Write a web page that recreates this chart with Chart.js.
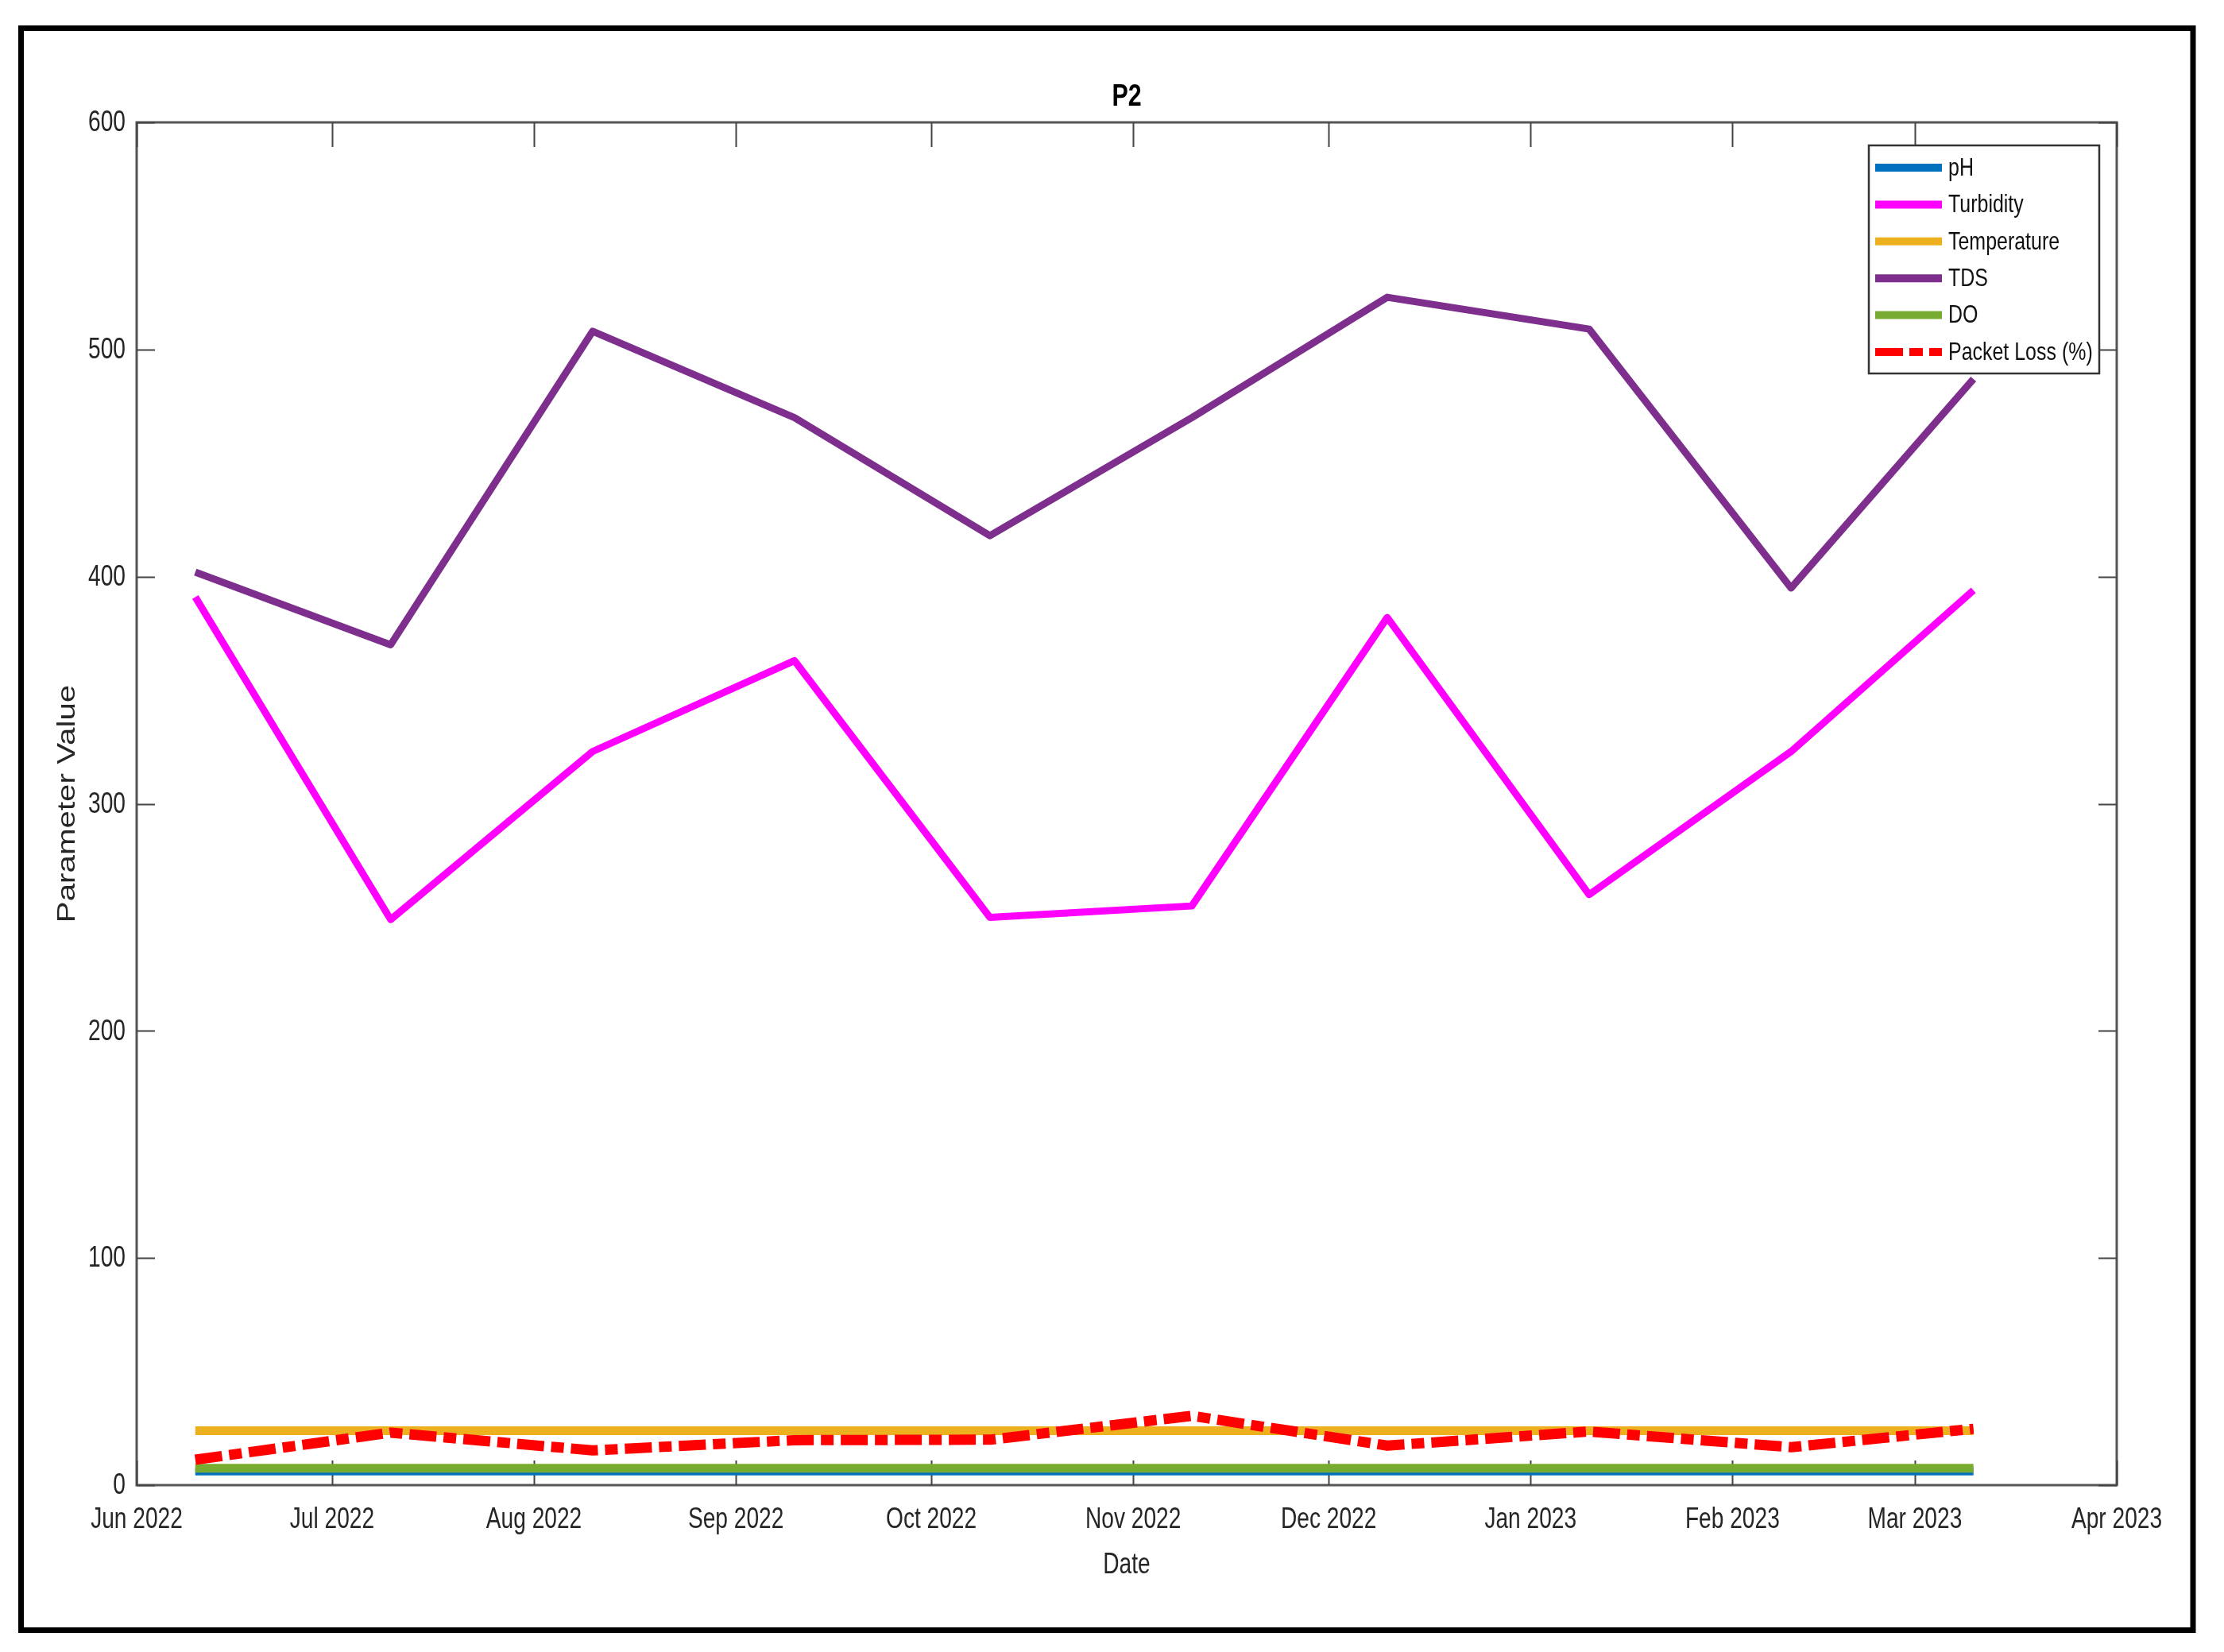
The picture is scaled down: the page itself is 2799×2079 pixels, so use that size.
<!DOCTYPE html>
<html>
<head>
<meta charset="utf-8">
<script src="https://cdn.jsdelivr.net/npm/chart.js@4.4.0/dist/chart.umd.min.js"></script>
<style>
  html, body { margin: 0; padding: 0; background: #ffffff; }
  #wrap { width: 2799px; height: 2079px; }
  canvas { display: block; }
</style>
</head>
<body>
<div id="wrap"><canvas id="c" width="2799" height="2079"></canvas></div>
<script>
// ---------- data ----------
const chartTitle = 'P2';
const xAxisTitle = 'Date';
const yAxisTitle = 'Parameter Value';

const sampleDates = ['2022-06-10', '2022-07-10', '2022-08-10', '2022-09-10', '2022-10-10',
                     '2022-11-10', '2022-12-10', '2023-01-10', '2023-02-10', '2023-03-10'];

const monthTicks = ['2022-06-01', '2022-07-01', '2022-08-01', '2022-09-01', '2022-10-01', '2022-11-01',
                    '2022-12-01', '2023-01-01', '2023-02-01', '2023-03-01', '2023-04-01'];
const monthLabels = ['Jun 2022', 'Jul 2022', 'Aug 2022', 'Sep 2022', 'Oct 2022', 'Nov 2022',
                     'Dec 2022', 'Jan 2023', 'Feb 2023', 'Mar 2023', 'Apr 2023'];

const yTicks = [0, 100, 200, 300, 400, 500, 600];

const seriesNames = ['pH', 'Turbidity', 'Temperature', 'TDS', 'DO', 'Packet Loss (%)'];

const phValues          = [6, 6, 6, 6, 6, 6, 6, 6, 6, 6];
const turbidityValues   = [391, 249, 323, 363, 250, 255, 382, 260, 323, 394];
const temperatureValues = [24, 24, 24, 24, 24, 24, 24, 24, 24, 24];
const tdsValues         = [402, 370, 508, 470, 418, 470, 523, 509, 395, 487];
const doValues          = [7.4, 7.4, 7.4, 7.4, 7.4, 7.4, 7.4, 7.4, 7.4, 7.4];
const packetLossValues  = [11.2, 23.1, 15.3, 19.8, 20.0, 30.5, 17.4, 23.6, 16.7, 24.8];

// ---------- styling ----------
const SANS = '"Liberation Sans", Arial, Helvetica, sans-serif';
const seriesColors = ['#0072BD', '#FF00FF', '#EDB120', '#7E2F8E', '#77AC30', '#FF0000'];
const seriesWidths = [10, 9, 11, 9, 11, 13];
const seriesDashes = [[], [], [], [], [], [34, 9, 16, 9]];
const seriesValues = [phValues, turbidityValues, temperatureValues, tdsValues, doValues, packetLossValues];

const toPoints = vals => sampleDates.map((d, i) => ({ x: Date.parse(d), y: vals[i] }));

const datasets = seriesNames.map((name, i) => ({
  label: name,
  data: toPoints(seriesValues[i]),
  borderColor: seriesColors[i],
  backgroundColor: seriesColors[i],
  borderWidth: seriesWidths[i],
  borderDash: seriesDashes[i],
  borderJoinStyle: 'round',
  borderCapStyle: 'butt',
  pointRadius: 0,
  pointHoverRadius: 0,
  tension: 0,
  fill: false,
  order: seriesNames.length - i
}));

// condensed text helper (the reference uses a narrow face)
function drawText(ctx, text, x, y, o) {
  ctx.save();
  ctx.translate(x, y);
  if (o.rotate) ctx.rotate(o.rotate);
  ctx.scale(o.sx || 1, o.sy || 1);
  ctx.font = o.font;
  ctx.fillStyle = o.color || '#262626';
  ctx.textAlign = o.align || 'center';
  ctx.textBaseline = o.baseline || 'middle';
  ctx.fillText(text, 0, 0);
  ctx.restore();
}

// ---------- plugins ----------
const framePlugin = {
  id: 'frame',
  beforeDraw(chart) {
    const ctx = chart.ctx;
    ctx.save();
    ctx.fillStyle = '#ffffff';
    ctx.fillRect(0, 0, chart.width, chart.height);
    ctx.strokeStyle = '#000000';
    ctx.lineWidth = 7;
    ctx.strokeRect(26.5, 35.5, 2760 - 26.5, 2051.5 - 35.5);
    ctx.restore();
  },
  beforeDatasetsDraw(chart) {
    const ctx = chart.ctx;
    const { left, right, top, bottom } = chart.chartArea;
    const xs = chart.scales.x, ys = chart.scales.y;
    const cx = (left + right) / 2, cy = (top + bottom) / 2;

    // axes box + inward tick marks
    ctx.save();
    ctx.strokeStyle = '#555555';
    ctx.lineWidth = 3;
    ctx.strokeRect(left, top, right - left, bottom - top);
    ctx.lineWidth = 2;
    ctx.strokeStyle = '#444444';
    ctx.beginPath();
    xs.ticks.forEach(t => {
      const px = Math.round(xs.getPixelForValue(t.value)) + 0.5;
      ctx.moveTo(px, bottom); ctx.lineTo(px, bottom - 31);
      ctx.moveTo(px, top); ctx.lineTo(px, top + 31);
    });
    ys.ticks.forEach(t => {
      const py = Math.round(ys.getPixelForValue(t.value)) + 0.5;
      ctx.moveTo(left, py); ctx.lineTo(left + 23, py);
      ctx.moveTo(right, py); ctx.lineTo(right - 23, py);
    });
    ctx.stroke();
    ctx.restore();

    // tick labels taken from the scales
    xs.ticks.forEach(t => {
      drawText(ctx, t.label, xs.getPixelForValue(t.value), bottom + 44,
        { font: '37px ' + SANS, sx: 0.76, color: '#262626' });
    });
    ys.ticks.forEach(t => {
      drawText(ctx, t.label, left - 14, ys.getPixelForValue(t.value) + 1,
        { font: '37px ' + SANS, sx: 0.76, align: 'right', color: '#262626' });
    });

    // titles
    drawText(ctx, chartTitle, cx, top - 32, { font: 'bold 39px ' + SANS, sx: 0.78, color: '#000000' });
    drawText(ctx, xAxisTitle, cx, bottom + 101, { font: '37px ' + SANS, sx: 0.76, color: '#262626' });
    drawText(ctx, yAxisTitle, 85, cy, { font: '31px ' + SANS, sx: 1.3, rotate: -Math.PI / 2, color: '#262626' });
  },
  afterDatasetsDraw(chart) {
    const ctx = chart.ctx;
    const ca = chart.chartArea;
    const w = 290, h = 287;
    const bx = ca.right - 22 - w, by = ca.top + 29;
    ctx.save();
    ctx.fillStyle = '#ffffff';
    ctx.fillRect(bx, by, w, h);
    ctx.strokeStyle = '#333333';
    ctx.lineWidth = 2.5;
    ctx.strokeRect(bx, by, w, h);
    chart.data.datasets.forEach((ds, i) => {
      const y = by + 28 + i * 46.4;
      ctx.beginPath();
      ctx.strokeStyle = ds.borderColor;
      ctx.lineWidth = 10;
      ctx.lineCap = 'butt';
      ctx.setLineDash(ds.borderDash && ds.borderDash.length ? [35, 8, 17, 8] : []);
      ctx.moveTo(bx + 8, y);
      ctx.lineTo(bx + 92, y);
      ctx.stroke();
      ctx.setLineDash([]);
      drawText(ctx, ds.label, bx + 100, y + 1,
        { font: '32px ' + SANS, sx: 0.78, align: 'left', color: '#111111' });
    });
    ctx.restore();
  }
};

// ---------- chart ----------
new Chart(document.getElementById('c'), {
  type: 'line',
  data: { datasets },
  options: {
    responsive: false,
    devicePixelRatio: 1,
    animation: false,
    layout: { padding: { top: 154, right: 135, bottom: 0, left: 0 } },
    plugins: {
      legend: { display: false },
      tooltip: { enabled: false },
      title: { display: false }
    },
    scales: {
      x: {
        type: 'linear',
        min: Date.parse(monthTicks[0]),
        max: Date.parse(monthTicks[monthTicks.length - 1]),
        afterBuildTicks: s => { s.ticks = monthTicks.map(d => ({ value: Date.parse(d) })); },
        afterFit: s => { s.height = 210; s.paddingLeft = 0; s.paddingRight = 0; },
        grid: { display: false, drawTicks: false },
        border: { display: false },
        ticks: {
          display: false,
          autoSkip: false, maxRotation: 0, minRotation: 0,
          callback: v => monthLabels[monthTicks.findIndex(d => Date.parse(d) === v)]
        },
        title: { display: false }
      },
      y: {
        type: 'linear',
        min: yTicks[0],
        max: yTicks[yTicks.length - 1],
        afterBuildTicks: s => { s.ticks = yTicks.map(v => ({ value: v })); },
        afterFit: s => { s.width = 172; s.paddingTop = 0; s.paddingBottom = 0; },
        grid: { display: false, drawTicks: false },
        border: { display: false },
        ticks: {
          display: false,
          callback: v => String(v)
        },
        title: { display: false }
      }
    }
  },
  plugins: [framePlugin]
});
</script>
</body>
</html>
